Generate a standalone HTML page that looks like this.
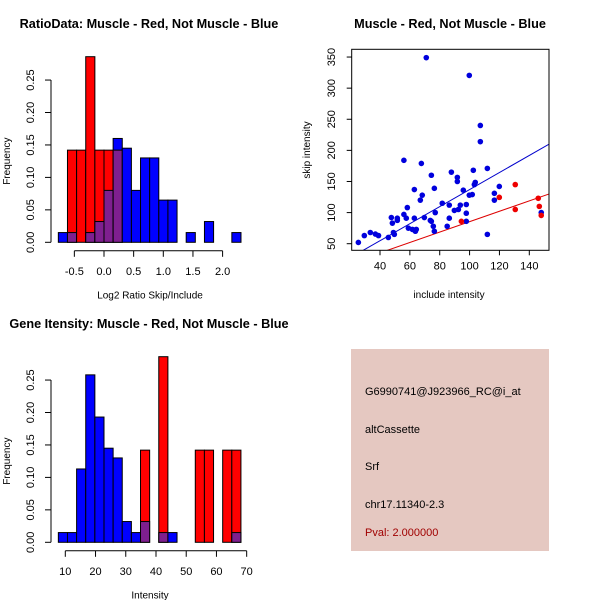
<!DOCTYPE html>
<html><head><meta charset="utf-8"><style>
body{margin:0;background:#fff;}
svg{display:block;font-family:"Liberation Sans",sans-serif;}
</style></head><body>
<svg id="c" width="600" height="600" viewBox="0 0 600 600">
<rect width="600" height="600" fill="#fff"/>
<g id="p1"></g>
<g id="p2"></g>
<g id="p3"></g>
<g id="p4">
<rect x="351" y="349" width="198" height="202" fill="#e5c8c1"/>
<text x="365" y="395" font-size="11">G6990741@J923966_RC@i_at</text>
<text x="365" y="433" font-size="11">altCassette</text>
<text x="365" y="470" font-size="11">Srf</text>
<text x="365" y="508" font-size="11">chr17.11340-2.3</text>
<text x="365" y="536" font-size="11" fill="#a00000">Pval: 2.000000</text>
</g>
</svg>
<script>
// ---- Histogram 1 data ----
const h1Start = -0.77, h1Width = 0.154;
const h1Blue = [0.015,0.015,0,0.015,0.032,0.08,0.16,0.145,0.08,0.13,0.13,0.065,0.065,0,0.015,0,0.032,0,0,0.015];
const h1Red  = [0,0.142,0.142,0.286,0.142,0.142,0.142,0,0,0,0,0,0,0,0,0,0,0,0,0];
const h1XTicks = [-0.5,0.0,0.5,1.0,1.5,2.0];
const h1XLabels = ["-0.5","0.0","0.5","1.0","1.5","2.0"];
const yTicks = [0,0.05,0.10,0.15,0.20,0.25];
const yLabels = ["0.00","0.05","0.10","0.15","0.20","0.25"];
// ---- Histogram 3 data ----
const h3Start = 7.7, h3Width = 3.02;
const h3Blue = [0.015,0.015,0.113,0.258,0.193,0.145,0.13,0.032,0.015,0.032,0,0.015,0.015,0,0,0,0,0,0,0.015];
const h3Red  = [0,0,0,0,0,0,0,0,0,0.142,0,0.286,0,0,0,0.142,0.142,0,0.142,0.142];
const h3XTicks = [10,20,30,40,50,60,70];
const h3XLabels = ["10","20","30","40","50","60","70"];
// ---- Scatter data ----
const blueX = [25.5,29.5,33.5,36.9,39,45.6,47.6,48.3,49,49.6,51.6,51.6,56,56,57.6,58.3,59,61.7,63,63,63.7,64.3,67,67.7,68.3,69.7,71,73.7,74.4,74.4,75.7,76.4,76.4,77,81.7,85,86.4,86.4,87.8,89.8,91.8,91.8,92.5,93.8,95.8,97.8,97.8,97.8,99.8,99.8,101.8,102.5,103.2,103.8,107.2,107.2,111.9,111.9,116.6,116.6,119.9,148];
const blueY = [52,63,68,65.5,63,60,92,83,68,65,87.5,91,184,97,91,108,75,73,137,91,70,73,120,179,128,92,349,87.5,160,86,78,139,70,100,115,78,91,112,165,103.5,156.6,150,105,112,136,99,113,86,320.5,128,129,168,145,148.5,240,214,171,65,131,120,142,100];
const redX = [94.5,119.9,130.6,130.6,146,146.7,148];
const redY = [86,124.5,145,105,123,110,95.5];
const blueFit = [0, 1.37];   // intercept, slope
const redFit = [1.8, 0.836];
const scXTicks = [40,60,80,100,120,140];
const scYTicks = [50,100,150,200,250,300,350];

const NS = "http://www.w3.org/2000/svg";
function mk(parent, tag, attrs){const e=document.createElementNS(NS,tag);for(const k in attrs)e.setAttribute(k,attrs[k]);parent.appendChild(e);return e;}

function hist(g, start, width, blue, red, xTicks, xLabels, xMap, base, title, titleX, titleY, xTitle, xTitleX){
  const yMap = v => base - v*649;
  for(let i=0;i<blue.length;i++){
    const x0 = xMap(start+i*width), x1 = xMap(start+(i+1)*width);
    const b = blue[i], r = red[i];
    const draw = (v, col) => {
      const el = mk(g,'rect',{x:x0,y:yMap(v),width:x1-x0,height:base-yMap(v),fill:col,stroke:'#000','stroke-width':1});
      
      
    };
    if(b>0 && r>0){ draw(Math.max(b,r), b>r?'#0000ff':'#ff0000'); draw(Math.min(b,r),'#7f1f8f'); }
    else if(b>0) draw(b,'#0000ff');
    else if(r>0) draw(r,'#ff0000');
  }
  const ya = mk(g,'line',{x1:51,x2:51,y1:yMap(0),y2:yMap(0.25),stroke:'#000'});
  
  
  yTicks.forEach((v,i)=>{
    mk(g,'line',{x1:45,x2:51,y1:yMap(v),y2:yMap(v),stroke:'#000'});
    const t = mk(g,'text',{x:0,y:0,'font-size':11,'text-anchor':'middle',transform:`translate(34,${yMap(v)}) rotate(-90)`});
    t.textContent = yLabels[i];
    
    
  });
  const axY = base+8.5;
  const xa = mk(g,'line',{x1:xMap(xTicks[0]),x2:xMap(xTicks[xTicks.length-1]),y1:axY,y2:axY,stroke:'#000'});
  
  
  xTicks.forEach((v,i)=>{
    mk(g,'line',{x1:xMap(v),x2:xMap(v),y1:axY,y2:axY+6,stroke:'#000'});
    const t = mk(g,'text',{x:xMap(v),y:axY+24,'font-size':11,'text-anchor':'middle'});
    t.textContent = xLabels[i];
    
    
  });
  const yt = mk(g,'text',{x:0,y:0,'font-size':10,'text-anchor':'middle',transform:`translate(10,${yMap(0.125)}) rotate(-90)`});
  yt.textContent='Frequency';
  
  
  const xt = mk(g,'text',{x:xTitleX,y:base+56,'font-size':10,'text-anchor':'middle'});
  xt.textContent=xTitle;
  
  
  const tt = mk(g,'text',{x:titleX,y:titleY,'font-size':12.7,'font-weight':'bold','text-anchor':'middle'});
  tt.textContent=title;
  
  
}

hist(document.getElementById('p1'), h1Start, h1Width, h1Blue, h1Red, h1XTicks, h1XLabels,
  v => 104 + v*59.3, 242.3, 'RatioData: Muscle - Red, Not Muscle - Blue', 149, 28, 'Log2 Ratio Skip/Include', 150);
hist(document.getElementById('p3'), h3Start, h3Width, h3Blue, h3Red, h3XTicks, h3XLabels,
  v => 65.3 + (v-10)*3.023, 542.3, 'Gene Itensity: Muscle - Red, Not Muscle - Blue', 149, 328, 'Intensity', 150);

(function(){
  const g = document.getElementById('p2');
  const L=351.7,R=549,T=49.3,B=250.3;
  const xMap = v => 380 + (v-40)*1.493;
  const yMap = v => 243.7 - (v-50)*0.6222;
  const cp = mk(g,'clipPath',{id:'scclip'}); mk(cp,'rect',{x:L,y:T,width:R-L,height:B-T});
  const fits=[[blueFit,'#0000cc'],[redFit,'#dd0000']];
  fits.forEach(([f,col])=>{
    const x0=15,x1=160;
    const l = mk(g,'line',{x1:xMap(x0),y1:yMap(f[0]+f[1]*x0),x2:xMap(x1),y2:yMap(f[0]+f[1]*x1),stroke:col,'stroke-width':1,'clip-path':'url(#scclip)'});
    
    
  });
  blueX.forEach((x,i)=>{
    const c = mk(g,'circle',{cx:xMap(x),cy:yMap(blueY[i]),r:2.8,fill:'#0000dd'});
    
    
  });
  redX.forEach((x,i)=>{
    const c = mk(g,'circle',{cx:xMap(x),cy:yMap(redY[i]),r:2.8,fill:'#ee0000'});
    
    
  });
  const box = mk(g,'rect',{x:L,y:T,width:R-L,height:B-T,fill:'none',stroke:'#000'});
  
  
  scXTicks.forEach(v=>{
    mk(g,'line',{x1:xMap(v),x2:xMap(v),y1:B,y2:B+5,stroke:'#000'});
    const t=mk(g,'text',{x:xMap(v),y:B+19,'font-size':11,'text-anchor':'middle'});
    t.textContent=String(v);
    
    
  });
  scYTicks.forEach(v=>{
    mk(g,'line',{x1:L-5,x2:L,y1:yMap(v),y2:yMap(v),stroke:'#000'});
    const t=mk(g,'text',{x:0,y:0,'font-size':11,'text-anchor':'middle',transform:`translate(335,${yMap(v)}) rotate(-90)`});
    t.textContent=String(v);
    
    
  });
  const xt=mk(g,'text',{x:449,y:298,'font-size':10,'text-anchor':'middle'});
  xt.textContent='include intensity';
  
  
  const yt=mk(g,'text',{x:0,y:0,'font-size':10,'text-anchor':'middle',transform:'translate(310,150) rotate(-90)'});
  yt.textContent='skip intensity';
  
  
  const tt=mk(g,'text',{x:450,y:28,'font-size':12.7,'font-weight':'bold','text-anchor':'middle'});
  tt.textContent='Muscle - Red, Not Muscle - Blue';
  
  
})();
</script>
</body></html>
